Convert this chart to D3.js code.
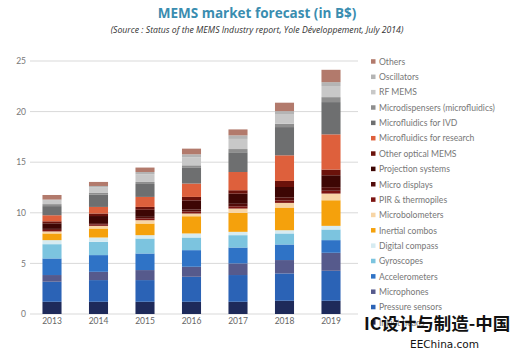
<!DOCTYPE html>
<html><head><meta charset="utf-8">
<script src="https://cdn.jsdelivr.net/npm/d3@7"></script>
<style>body{margin:0;background:#fff}svg{display:block}</style>
</head><body>
<svg id="c" width="515" height="359"></svg>
<script>
const years = ["2013","2014","2015","2016","2017","2018","2019"];
// series listed bottom to top of the stack
const seriesNames = ["Inkjet heads","Pressure sensors","Microphones","Accelerometers","Gyroscopes","Digital compass","Inertial combos","Microbolometers","PIR & thermopiles","Micro displays","Projection systems","Other optical MEMS","Microfluidics for research","Microfluidics for IVD","Microdispensers (microfluidics)","RF MEMS","Oscillators","Others"];
const inkjetHeads      = [1.21,1.21,1.21,1.21,1.21,1.31,1.31];
const pressureSensors  = [1.98,2.14,2.14,2.47,2.64,2.70,2.96];
const microphones      = [0.66,0.82,0.99,0.99,1.15,1.32,1.78];
const accelerometers   = [1.64,1.65,1.64,1.64,1.57,1.54,1.25];
const gyroscopes       = [1.41,1.31,1.48,1.25,1.22,1.09,1.05];
const digitalCompass   = [0.40,0.43,0.33,0.40,0.33,0.32,0.36];
const inertialCombos   = [0.66,0.89,1.15,1.70,1.87,2.24,2.53];
const microbolometers  = [0.20,0.26,0.33,0.27,0.43,0.46,0.66];
const pirThermopiles   = [0.15,0.15,0.18,0.20,0.22,0.25,0.28];
const microDisplays    = [0.10,0.12,0.15,0.20,0.25,0.30,0.35];
const projection       = [0.55,0.70,0.70,0.90,1.00,1.02,1.18];
const otherOptical     = [0.20,0.25,0.28,0.34,0.34,0.60,0.56];
const mfResearch       = [0.60,0.65,0.99,1.32,1.80,2.53,3.48];
const mfIVD            = [0.90,1.20,1.28,1.55,1.95,2.79,3.19];
const microdispensers  = [0.20,0.22,0.20,0.25,0.32,0.33,0.49];
const rfMems           = [0.35,0.50,0.75,0.80,1.00,0.90,1.10];
const oscillators      = [0.10,0.15,0.23,0.29,0.35,0.35,0.38];
const others           = [0.45,0.40,0.44,0.56,0.59,0.83,1.22];
const seriesValues = [inkjetHeads,pressureSensors,microphones,accelerometers,gyroscopes,digitalCompass,inertialCombos,microbolometers,pirThermopiles,microDisplays,projection,otherOptical,mfResearch,mfIVD,microdispensers,rfMems,oscillators,others];
const yTicks = [0,5,10,15,20,25];
const colors = ["#1e2a5a","#2b63b6","#565a8c","#2f73c6","#7cc4df","#d6ebf1","#f5a10c","#f7d5a6","#7c1412","#520c0a","#3d0604","#6b120b","#de603c","#6e6f70","#8e8e8e","#c8c8c8","#b4b4b4","#b27a6c"];

const svg = d3.select("#c");
const x = d3.scaleBand().domain(years).range([28.75,354.25]).paddingInner(0.59).paddingOuter(0.295);
const y = d3.scaleLinear().domain([0,25]).range([314,61]);

// gridlines
svg.append("g").selectAll("line").data(yTicks).join("line")
  .attr("x1",30).attr("x2",358).attr("y1",d=>y(d)).attr("y2",d=>y(d))
  .attr("stroke","#d9d9d9").attr("stroke-width",1);

// y axis labels
const yAxis = d3.axisLeft(y).tickValues(yTicks).tickSize(0).tickPadding(0);
const ya = svg.append("g").attr("transform","translate(26,0)").call(yAxis);
ya.select(".domain").remove();
ya.selectAll("text").attr("font-family","Lato, sans-serif").attr("font-size",8.5).attr("fill","#777");

// x axis labels
const xAxis = d3.axisBottom(x).tickSize(0).tickPadding(0);
const xa = svg.append("g").attr("transform","translate(0,318)").call(xAxis);
xa.select(".domain").remove();
xa.selectAll("text").attr("font-family","Lato, sans-serif").attr("font-size",8.5).attr("fill","#666");

// stacked data
const rows = years.map((yr,i)=>{const r={year:yr}; seriesNames.forEach((s,j)=>r[s]=seriesValues[j][i]); return r;});
const stack = d3.stack().keys(seriesNames)(rows);
svg.append("g").selectAll("g").data(stack).join("g")
  .attr("fill",(d,i)=>colors[i])
  .selectAll("rect").data(d=>d).join("rect")
  .attr("x",d=>x(d.data.year)).attr("width",x.bandwidth())
  .attr("y",d=>y(d[1])).attr("height",d=>y(d[0])-y(d[1]));

// title
svg.append("text").attr("x",257).attr("y",18).attr("text-anchor","middle")
  .attr("font-family","'Open Sans', sans-serif").attr("font-weight","bold").attr("font-size",13.5)
  .attr("fill","#3a8db0").text("MEMS market forecast (in B$)");
svg.append("text").attr("x",257).attr("y",33).attr("text-anchor","middle")
  .attr("font-family","'Open Sans', sans-serif").attr("font-style","italic").attr("font-size",8.7)
  .attr("fill","#333").text("(Source : Status of the MEMS Industry report, Yole Développement, July 2014)");

// legend (top to bottom = reverse of stack)
const legendItems = seriesNames.map((s,i)=>({name:s,color:colors[i]})).reverse();
const lg = svg.append("g").selectAll("g").data(legendItems).join("g")
  .attr("transform",(d,i)=>`translate(371,${61.7+i*15.35})`);
lg.append("rect").attr("x",0).attr("y",-2.5).attr("width",4.5).attr("height",4.5).attr("fill",d=>d.color);
lg.append("text").attr("x",8).attr("y",3).attr("font-family","Lato, sans-serif").attr("font-size",8.6)
  .attr("fill","#777").text(d=>d.name);

// watermark (overlaps the last legend entry, as in the source image)
svg.append("text").attr("x",364).attr("y",330).attr("font-family","'Noto Sans CJK SC', sans-serif")
  .attr("font-size",17.5).attr("font-weight","bold").attr("fill","#111").text("IC设计与制造-中国");
svg.append("text").attr("x",410).attr("y",348).attr("font-family","'DejaVu Sans', sans-serif")
  .attr("font-size",10.5).attr("fill","#111").text("EEChina.com");
</script>
</body></html>
